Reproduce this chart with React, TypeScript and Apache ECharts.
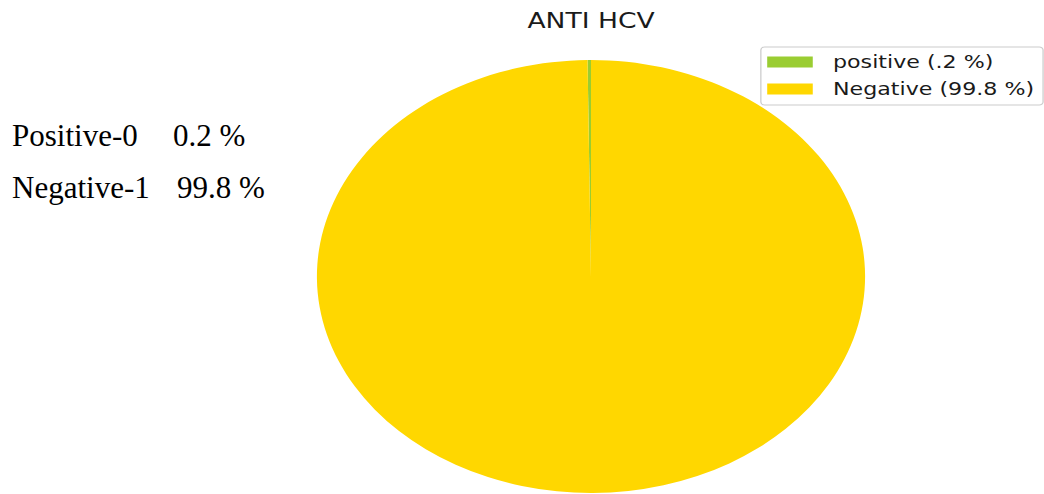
import { useEffect, useRef } from "react";
import * as echarts from "echarts";

// Pie content
const chartTitle = "ANTI HCV";
const sliceNames = ["positive (.2 %)", "Negative (99.8 %)"];
const slicePercents = [0.2, 99.8];
const sliceColors = ["#9acd32", "#ffd700"];

// Coding notes printed beside the figure
const codeLabels = ["Positive-0", "Negative-1"];
const codeValues = ["0.2 %", "99.8 %"];

// The figure is drawn stretched horizontally
const STRETCH = 1.266;
const PAGE_W = 1044;
const PAGE_H = 494;
const CHART_W = PAGE_W / STRETCH;

export default function App() {
  const ref = useRef<HTMLDivElement>(null);

  useEffect(() => {
    if (!ref.current) return;
    const chart = echarts.init(ref.current, undefined, { renderer: "svg" });

    const serif = "'Liberation Serif', 'Times New Roman', serif";
    const sans = "'DejaVu Sans', sans-serif";
    const inv = 1 / STRETCH;
    const rowMid = [135.5, 187.5];
    const labelX = 12;
    const valueX = [173, 177];

    const graphics: any[] = [];
    codeLabels.forEach((lab, i) => {
      graphics.push({
        type: "text",
        x: labelX * inv,
        y: rowMid[i],
        scaleX: inv,
        silent: true,
        style: {
          text: lab,
          fontFamily: serif,
          fontSize: 31,
          fill: "#000",
          align: "left",
          verticalAlign: "middle",
        },
      });
      graphics.push({
        type: "text",
        x: valueX[i] * inv,
        y: rowMid[i],
        scaleX: inv,
        silent: true,
        style: {
          text: codeValues[i],
          fontFamily: serif,
          fontSize: 31,
          fill: "#000",
          align: "left",
          verticalAlign: "middle",
        },
      });
    });

    chart.setOption({
      animation: false,
      title: {
        text: chartTitle,
        left: 591 * inv,
        top: 10,
        padding: 0,
        textAlign: "center",
        textStyle: {
          fontFamily: sans,
          fontSize: 21,
          fontWeight: "normal",
          color: "#1a1a1a",
        },
      },
      legend: {
        orient: "vertical",
        left: 601,
        top: 47,
        data: sliceNames,
        icon: "rect",
        itemWidth: 36,
        itemHeight: 11,
        itemGap: 9,
        selectedMode: false,
        padding: [6, 7, 7, 5],
        borderColor: "#cccccc",
        borderWidth: 1,
        borderRadius: 3,
        backgroundColor: "rgba(255,255,255,0.8)",
        textStyle: {
          fontFamily: sans,
          fontSize: 17.5,
          lineHeight: 18,
          color: "#1a1a1a",
          padding: [0, 0, 0, 11],
        },
      },
      graphic: graphics,
      series: [
        {
          type: "pie",
          center: [591 * inv, 276.5],
          radius: 216.5,
          startAngle: 90,
          clockwise: false,
          silent: true,
          label: { show: false },
          labelLine: { show: false },
          emphasis: { disabled: true },
          itemStyle: { borderWidth: 0 },
          data: sliceNames.map((name, i) => ({
            name,
            value: slicePercents[i],
            itemStyle: { color: sliceColors[i] },
          })),
        },
      ],
    });

    return () => chart.dispose();
  }, []);

  return (
    <div
      style={{
        position: "fixed",
        left: 0,
        top: 0,
        width: PAGE_W,
        height: PAGE_H,
        overflow: "hidden",
        background: "#fff",
      }}
    >
      <div
        ref={ref}
        style={{
          position: "absolute",
          left: 0,
          top: 0,
          width: CHART_W,
          height: PAGE_H,
          transform: `scaleX(${STRETCH})`,
          transformOrigin: "0 0",
        }}
      />
    </div>
  );
}
